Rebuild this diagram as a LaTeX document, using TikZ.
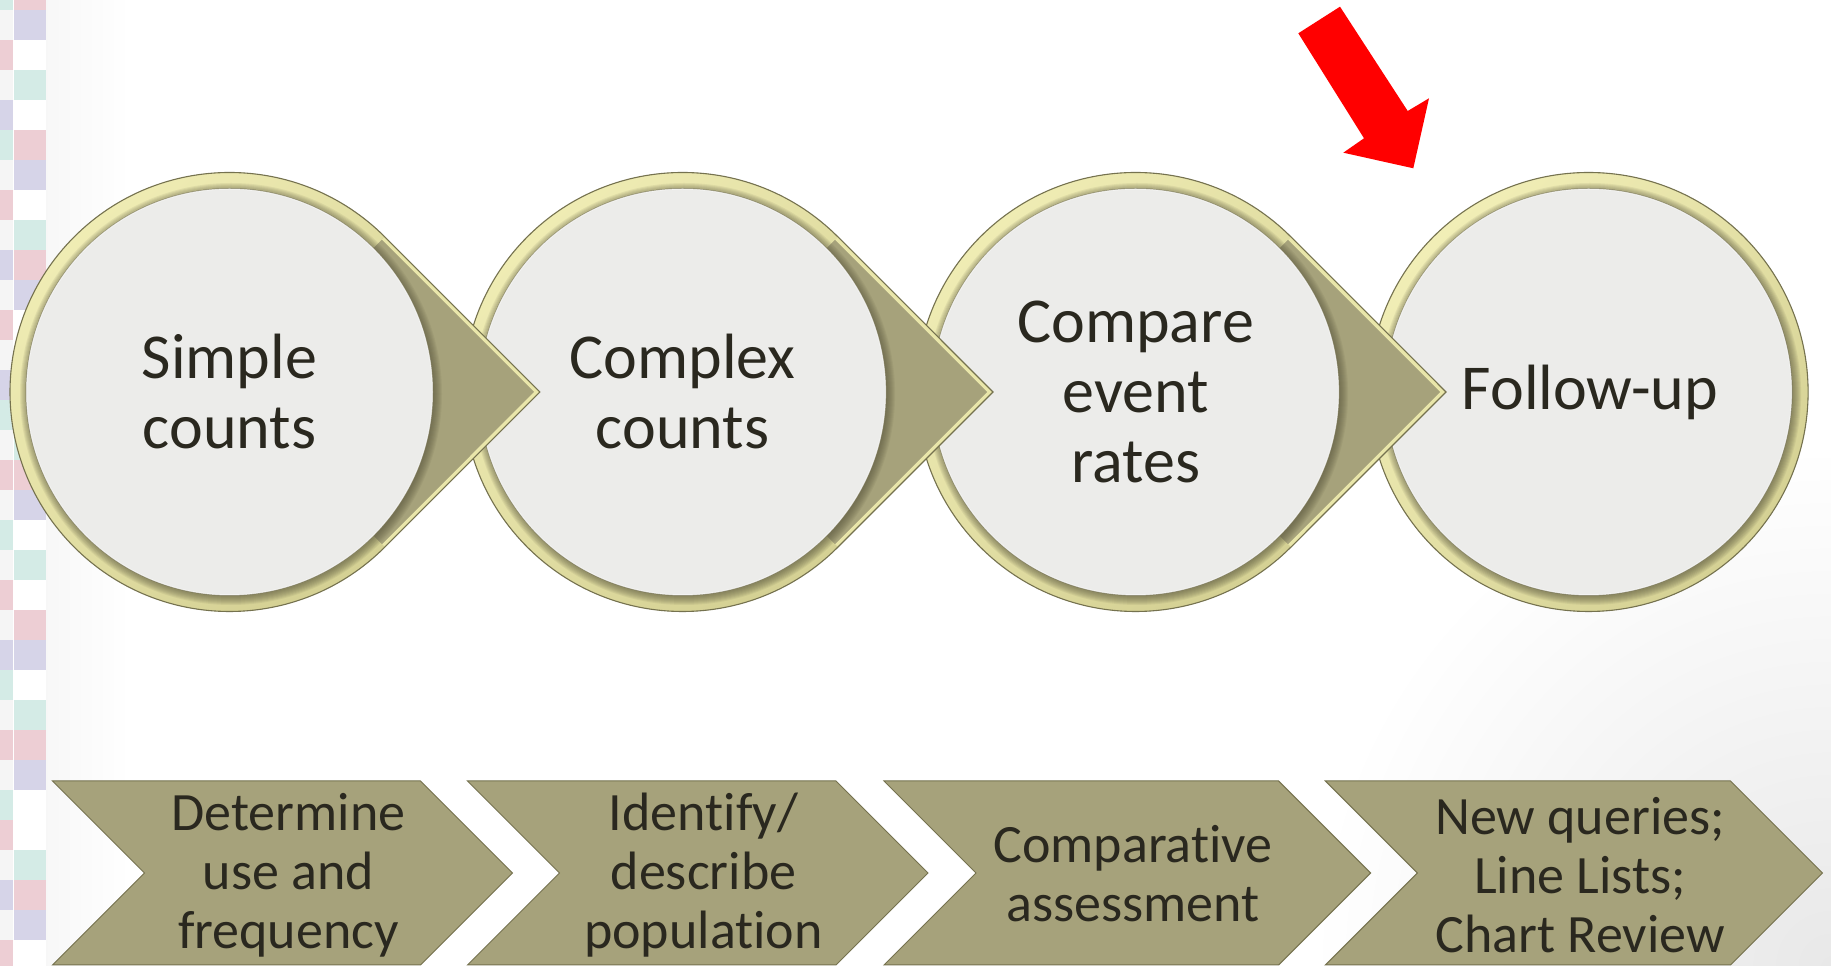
\documentclass[tikz,border=0pt]{standalone}
\usepackage{fontspec}
\setmainfont{Carlito}[Ligatures={NoCommon}]
\usetikzlibrary{calc}

\definecolor{olivefill}{HTML}{A6A27B}
\definecolor{oliveedge}{HTML}{75724F}
\definecolor{rimlight}{HTML}{F1EEB6}
\definecolor{rimdark}{HTML}{D5D194}
\definecolor{rimpale}{HTML}{E9E6AA}
\definecolor{shadowcol}{HTML}{55523A}
\definecolor{discfill}{HTML}{ECECEA}
\definecolor{inktext}{HTML}{2A281F}
\definecolor{cellT}{HTML}{D4EBE6}
\definecolor{cellP}{HTML}{EDCED4}
\definecolor{cellL}{HTML}{D6D4E8}
\definecolor{cellW}{HTML}{F5F5F5}
\definecolor{cellX}{HTML}{FFFFFF}

\tikzset{
  % outline of a disc with a pointed tip to the right (centre at the origin)
  tearpath/.style={insert path={(45:219.5) arc[start angle=45,end angle=315,radius=219.5] -- (310.4,0) -- cycle}},
  % bevelled rim along the round part of the tear shape
  tearrim/.style={insert path={(45:219.5) arc[start angle=45,end angle=315,radius=219.5] -- (315:204) arc[start angle=315,end angle=45,radius=204] -- cycle}},
  % plain disc and its rim
  discpath/.style={insert path={(0,0) circle[radius=219.5]}},
  discrim/.style={insert path={(0:219.5) arc[start angle=0,end angle=360,radius=219.5] -- (0:204) arc[start angle=360,end angle=0,radius=204] -- cycle}},
  rimshade/.style={top color=rimlight, bottom color=rimdark, shading angle=45},
  edgeline/.style={draw=oliveedge, line width=1.1},
  chevron/.style={fill=olivefill, draw=oliveedge, line width=1},
  toptext/.style={font=\fontsize{64}{70}\selectfont, text=inktext, align=center, inner sep=0pt},
  bottext/.style={font=\fontsize{54}{59}\selectfont, text=inktext, align=center, inner sep=0pt},
}

% disc with rim, inner face and drop shadow; #1 = centre x, #2 = outline style, #3 = rim style
\newcommand\RimDisc[3]{%
  \begin{scope}[shift={(#1,574)}]
    \fill[olivefill, #2];
    \begin{scope}
      \clip[#2];
      \draw[rimpale, line width=8, line join=miter] (45:219.5) -- (310.4,0) -- (-45:219.5);
      \shade[rimshade, #3];
      \foreach \k in {1,...,9}
        \fill[shadowcol, opacity=0.085] (1.5,-2) circle[radius=202+\k];
    \end{scope}
    \fill[discfill] (0,0) circle[radius=203];
    \draw[white, opacity=0.6, line width=1] (0,0) circle[radius=203];
    \draw[edgeline, #2];
  \end{scope}}

\begin{document}
\begin{tikzpicture}[x=1pt,y=1pt]
\useasboundingbox (0,0) rectangle (1831,966);
\fill[white] (0,0) rectangle (1831,966);

% soft grey edges of the page
\shade[left color=black!3, right color=white] (46,0) rectangle (130,966);
\begin{scope}
  \clip (0,0) rectangle (1831,966);
  \shade[inner color=black!9, outer color=white] (1831,0) circle[radius=520];
\end{scope}

% chequered border on the left edge
\foreach \c [count=\i from 0] in {T,W,P,W,L,T,W,P,W,L,W,P,W,L,T,W,P,W,T,W,P,W,L,T,W,P,W,T,P,W,L,W,P,W}
  \fill[cell\c] (0,{986-30*\i}) rectangle (13,{956-30*\i});
\foreach \c [count=\i from 0] in {P,L,X,T,X,P,L,X,T,P,L,X,X,L,X,T,P,L,X,T,X,P,L,X,T,P,L,X,X,T,P,L,X,T}
  \fill[cell\c] (14,{986-30*\i}) rectangle (46,{956-30*\i});

% top row: discs drawn right to left so each tip lies over the next disc
\RimDisc{1588.6}{discpath}{discrim}
\RimDisc{1135.6}{tearpath}{tearrim}
\RimDisc{682.6}{tearpath}{tearrim}
\RimDisc{229.5}{tearpath}{tearrim}

\node[toptext] (simple)  at (229.5,574) {Simple\\counts};
\node[toptext] (complex) at (682.6,574) {Complex\\counts};
\node[toptext] (compare) at (1135.6,574) {Compare\\event\\rates};
\node[toptext] (follow)  at (1590,574) {Follow-up};

% red pointer
\fill[red] (1298.3,932.7) -- (1340,959.3) -- (1407.7,855) -- (1429,867.7)
  -- (1413.3,797.7) -- (1343.3,813.3) -- (1364,827.7) -- cycle;

% bottom row of chevrons
\foreach \L/\R in {52.5/420.5, 467.5/836, 884/1278.6, 1325.4/1730.5}
  \draw[chevron] (\L,185) -- (\R,185) -- ({\R+92},93) -- (\R,1) -- (\L,1) -- ({\L+92},93) -- cycle;

\node[bottext] (use)    at (288.5,91) {Determine\\use and\\frequency};
\node[bottext] (pop)    at (703.5,91) {Identify/\\describe\\population};
\node[bottext] (assess) at (1133,92) {Comparative\\assessment};
\node[bottext] (query)  at (1580,91) {New queries;\\Line Lists;\\Chart Review};
\end{tikzpicture}
\end{document}
